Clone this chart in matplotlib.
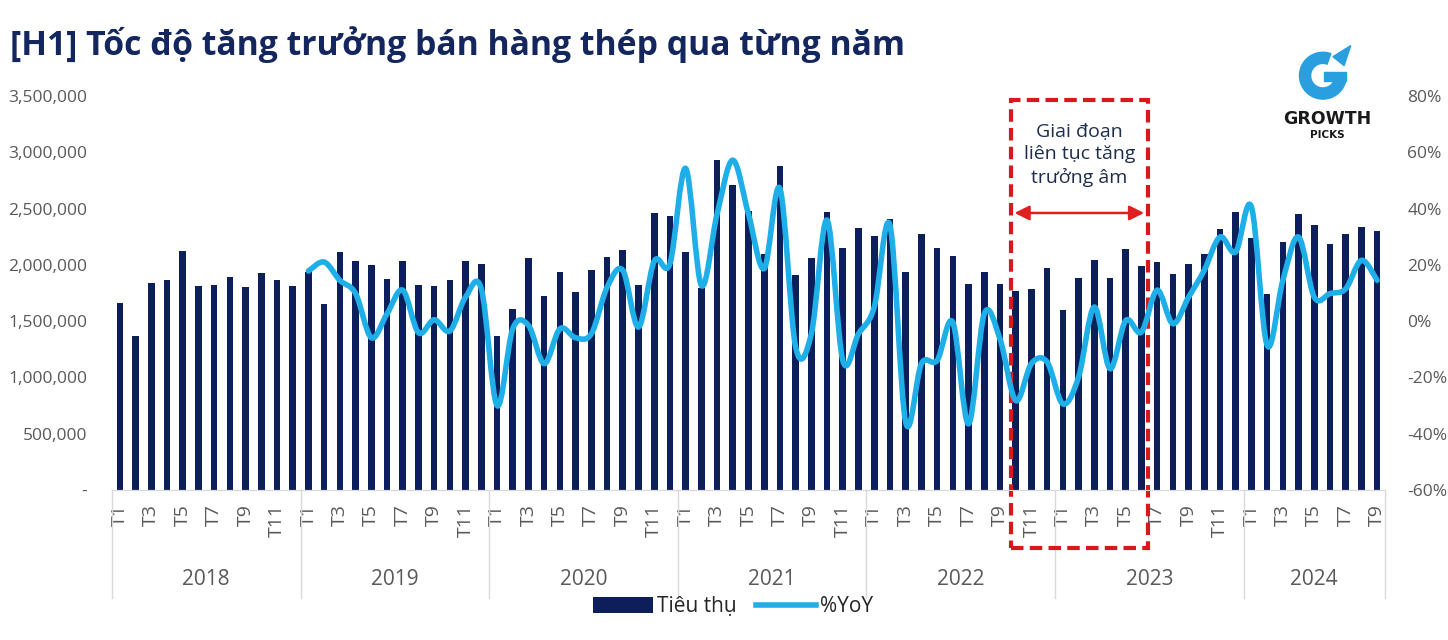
import numpy as np
import matplotlib
matplotlib.use("Agg")
import matplotlib.pyplot as plt
from matplotlib.path import Path
from matplotlib.patches import PathPatch, Rectangle, Wedge, Polygon, Patch
from matplotlib.lines import Line2D
from matplotlib.ticker import FuncFormatter

plt.rcParams['font.family'] = ['Open Sans', 'DejaVu Sans']

# data
years = ['2018', '2019', '2020', '2021', '2022', '2023', '2024']
months_per_year = [12, 12, 12, 12, 12, 12, 9]

sales = [
    # 2018
    1661000, 1364000, 1839000, 1863000, 2124000, 1812000, 1824000, 1889000, 1806000, 1928000, 1863000, 1812000,
    # 2019
    1937000, 1649000, 2115000, 2035000, 2002000, 1872000, 2035000, 1818000, 1812000, 1863000, 2035000, 2011000,
    # 2020
    1367000, 1611000, 2064000, 1720000, 1934000, 1759000, 1955000, 2073000, 2130000, 1818000, 2462000, 2435000,
    # 2021
    2115000, 1795000, 2930000, 2705000, 2477000, 2100000, 2877000, 1907000, 2061000, 2471000, 2153000, 2328000,
    # 2022
    2254000, 2411000, 1940000, 2278000, 2150000, 2079000, 1830000, 1940000, 1830000, 1765000, 1786000, 1975000,
    # 2023
    1599000, 1886000, 2047000, 1886000, 2141000, 1993000, 2026000, 1922000, 2011000, 2097000, 2316000, 2471000,
    # 2024
    2242000, 1741000, 2201000, 2453000, 2355000, 2186000, 2278000, 2337000, 2305000,
]

# %YoY starts 2019 T1
yoy = [
    17.8, 21.0, 14.5, 9.8, -5.9, 2.6, 11.0, -4.1, 0.5, -3.5, 8.6, 11.5,
    -30.0, -2.7, -1.5, -15.1, -2.7, -5.9, -4.5, 12.0, 18.1, -2.1, 21.3, 20.4,
    54.3, 12.7, 38.0, 57.2, 38.0, 18.7, 47.1, -9.2, -4.5, 35.9, -14.0, -4.5,
    5.0, 34.1, -35.9, -15.1, -14.0, -0.4, -36.5, 2.6, -6.3, -28.2, -15.1, -14.5,
    -29.4, -19.9, 5.0, -16.9, 0.2, -3.9, 11.0, -0.9, 8.5, 18.1, 29.9, 24.6,
    40.6, -8.6, 14.5, 29.9, 8.5, 9.8, 11.5, 21.6, 14.5,
]

bar_color = '#0c1f5b'
line_color = '#1eaee8'
grey = '#595959'
sep_color = '#d9d9d9'

fig = plt.figure(figsize=(14.48, 6.4), dpi=100)
ax = fig.add_axes([112/1448, 1-490/640, (1385-112)/1448, (490-96)/640])
ax2 = ax.twinx()

x = np.arange(len(sales))
ax.bar(x, sales, width=0.42, color=bar_color, zorder=2)
ax.set_xlim(-0.5, len(sales)-0.5)
ax.set_ylim(0, 3500000)
ax.set_yticks(np.arange(0, 3500001, 500000))
ax.yaxis.set_major_formatter(FuncFormatter(lambda v, p: '-' if v == 0 else f'{int(v):,}'))

# smoothed line (bezier through the data points, like Excel)
xl = np.arange(12, 12+len(yoy))
yl = np.array(yoy, dtype=float)
pts = np.column_stack([xl, yl])
verts = [pts[0]]
codes = [Path.MOVETO]
n = len(pts)
for i in range(n-1):
    p0 = pts[max(i-1, 0)]
    p1 = pts[i]
    p2 = pts[i+1]
    p3 = pts[min(i+2, n-1)]
    verts += [p1 + (p2-p0)/6, p2 - (p3-p1)/6, p2]
    codes += [Path.CURVE4]*3
ax2.add_patch(PathPatch(Path(verts, codes), fill=False, edgecolor=line_color,
                        lw=4, capstyle='round', joinstyle='round', zorder=3))
ax2.set_ylim(-60, 80)
ax2.set_yticks(np.arange(-60, 81, 20))
ax2.yaxis.set_major_formatter(FuncFormatter(lambda v, p: f'{int(v)}%'))

for a in (ax, ax2):
    for s in ['top', 'right', 'left']:
        a.spines[s].set_visible(False)
    a.spines['bottom'].set_color(sep_color)
    a.tick_params(axis='y', length=0, labelsize=12.5, labelcolor=grey)
ax.tick_params(axis='y', pad=18)
ax2.tick_params(axis='y', pad=16)

# month labels (odd months only)
ticks, labels = [], []
start = 0
for yr, nm in zip(years, months_per_year):
    for m in range(0, nm, 2):
        ticks.append(start + m)
        labels.append(f'T{m+1}')
    start += nm
ax.set_xticks(ticks)
ax.set_xticklabels(labels, rotation=90, fontsize=14, color=grey)
ax.tick_params(axis='x', length=0, pad=10)

# year labels and separators
start = 0
bounds = [-0.5]
for yr, nm in zip(years, months_per_year):
    mid = start + (nm-1)/2
    ax.text(mid, -0.226, yr, transform=ax.get_xaxis_transform(), ha='center', va='center',
            fontsize=15, color=grey)
    start += nm
    bounds.append(start-0.5)
for b in bounds:
    ax.plot([b, b], [0, -0.275], transform=ax.get_xaxis_transform(), color=sep_color,
            lw=1, clip_on=False)

# red dashed box + arrow + note
ax.add_patch(Rectangle((56.7, -515000), 65.4-56.7, 3464000+515000, fill=False,
                       edgecolor='#d7191c', lw=3, ls=(0, (3, 1.5)), clip_on=False, zorder=5))
ax.annotate('', xy=(56.75, 2461000), xytext=(65.35, 2461000),
            arrowprops=dict(arrowstyle='<|-|>', color='#e02020', lw=1.8, mutation_scale=22),
            zorder=6)
ax.text(61.05, 2975000, 'Giai đoạn\nliên tục tăng\ntrưởng âm', ha='center', va='center',
        fontsize=14, color='#1f2d4d', linespacing=1.3, zorder=6)

# title
fig.text(10/1448, 1-45/640, '[H1] Tốc độ tăng trưởng bán hàng thép qua từng năm',
         fontsize=24.3, fontweight='bold', color='#13265e', va='center', ha='left')

# legend
handles = [Patch(facecolor=bar_color, label='Tiêu thụ'),
           Line2D([0], [0], color=line_color, lw=4, label='%YoY')]
fig.legend(handles=handles, loc='center', bbox_to_anchor=(733/1448, 1-607/640), ncol=2,
           frameon=False, fontsize=15, handlelength=2.9, handleheight=0.8,
           columnspacing=0.9, labelcolor='#262626', handletextpad=0.2)

# logo
lax = fig.add_axes([1295/1448, 1-106/640, 58/1448, 64/640])
lax.set_xlim(-1.25, 1.35)
lax.set_ylim(-1.3, 1.45)
lax.set_aspect('equal')
lax.axis('off')
lax.add_patch(Wedge((0, 0), 1.05, 70, 360, width=0.5, color='#2a9fe0'))
lax.add_patch(Rectangle((0.05, -0.25), 1.0, 0.42, color='#2a9fe0'))
lax.add_patch(Polygon([[0.45, 0.85], [1.25, 1.35], [0.95, 0.45]], color='#2a9fe0'))
fig.text(1327/1448, 1-119/640, 'GROWTH', ha='center', va='center', fontsize=12.5,
         fontweight='bold', color='#1a1a1a', family=['DejaVu Sans'])
fig.text(1327/1448, 1-135/640, 'PICKS', ha='center', va='center', fontsize=7.5,
         fontweight='bold', color='#1a1a1a', family=['DejaVu Sans'])

fig.savefig('out.png', dpi=100, facecolor='white')
